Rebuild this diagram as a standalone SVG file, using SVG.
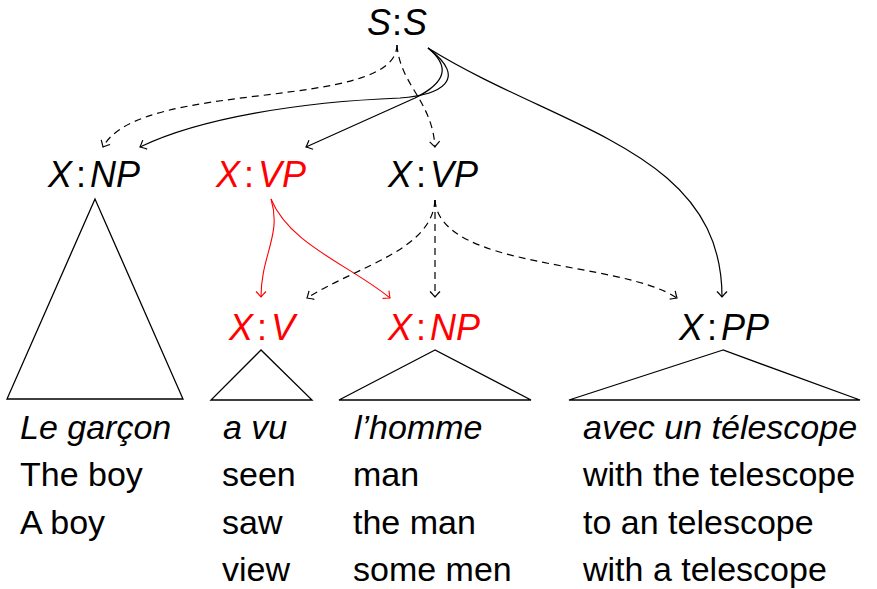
<svg xmlns="http://www.w3.org/2000/svg" width="877" height="589" viewBox="0 0 877 589">
  <style>
    .lbl { font-family: "Liberation Sans", Arial, sans-serif; font-size: 36px; text-anchor: middle; }
    .it { font-style: italic; }
    .red { fill: #ff0000; }
    .blk { fill: #000000; }
    .word { font-family: "Liberation Sans", Arial, sans-serif; font-size: 34px; fill: #000; }
    .tri { fill: none; stroke: #000; stroke-width: 1.3; stroke-linejoin: miter; }
    .edge { fill: none; stroke: #000; stroke-width: 1.2; }
    .dash { stroke-dasharray: 7 5; }
    .redge { fill: none; stroke: #ff0000; stroke-width: 1.1; }
  </style>
  <defs>
    <marker id="arrow" viewBox="-7 -7 9 14" markerWidth="9" markerHeight="14" refX="0" refY="0" orient="auto" markerUnits="userSpaceOnUse">
      <path d="M-5.5,-5 Q-1.5,-1.2 0,0 Q-1.5,1.2 -5.5,5" fill="none" stroke="#000" stroke-width="1.2" stroke-dasharray="none"/>
    </marker>
    <marker id="arrow-red" viewBox="-7 -7 9 14" markerWidth="9" markerHeight="14" refX="0" refY="0" orient="auto" markerUnits="userSpaceOnUse">
      <path d="M-5.5,-5 Q-1.5,-1.2 0,0 Q-1.5,1.2 -5.5,5" fill="none" stroke="#ff0000" stroke-width="1.1"/>
    </marker>
  </defs>
  <rect width="877" height="589" fill="#fff"/>

  <!-- connectors -->
  <g id="connectors">
    <!-- from S:S -->
    <path class="edge dash" d="M397,45 C396,112 140,78 103,147" marker-end="url(#arrow)"/>
    <path class="edge dash" d="M397,45 C400,85 432,100 435,147" marker-end="url(#arrow)"/>
    <path class="edge" d="M428,48 C470,80 440,95 400,98 C300,102 200,118 140,147" marker-end="url(#arrow)"/>
    <path class="edge" d="M428,48 C450,66 447,82 415,98 L306,147" marker-end="url(#arrow)"/>
    <path class="edge" d="M428,48 C560,130 722,150 722,297" marker-end="url(#arrow)"/>
    <!-- from red X:VP -->
    <path class="redge" d="M271,199 C282,235 261,255 261,297" marker-end="url(#arrow-red)"/>
    <path class="redge" d="M271,199 C290,245 350,265 390,298" marker-end="url(#arrow-red)"/>
    <!-- from black X:VP -->
    <path class="edge dash" d="M435,200 C432,250 360,265 307,298" marker-end="url(#arrow)"/>
    <path class="edge dash" d="M435,200 L435,297" marker-end="url(#arrow)"/>
    <path class="edge dash" d="M435,200 C440,270 620,260 677,298" marker-end="url(#arrow)"/>
  </g>

  <!-- nodes -->
  <g id="n-s">
    <text class="lbl blk" x="397" y="35"><tspan class="it">S</tspan><tspan dx="1">:</tspan><tspan dx="1" class="it">S</tspan></text>
  </g>
  <g id="n-np">
    <text class="lbl blk" x="94" y="187"><tspan class="it">X</tspan><tspan dx="4">:</tspan><tspan dx="4" class="it">NP</tspan></text>
    <polygon class="tri" points="95,199 7,399 183,399"/>
  </g>
  <g id="n-vp-red">
    <text class="lbl red" x="261" y="187"><tspan class="it">X</tspan><tspan dx="4">:</tspan><tspan dx="4" class="it">VP</tspan></text>
  </g>
  <g id="n-vp">
    <text class="lbl blk" x="433" y="187"><tspan class="it">X</tspan><tspan dx="4">:</tspan><tspan dx="4" class="it">VP</tspan></text>
  </g>
  <g id="n-v">
    <text class="lbl red" x="262" y="340"><tspan class="it">X</tspan><tspan dx="4">:</tspan><tspan dx="4" class="it">V</tspan></text>
    <polygon class="tri" points="261,350 211,400 312,400"/>
  </g>
  <g id="n-np2">
    <text class="lbl red" x="434" y="340"><tspan class="it">X</tspan><tspan dx="4">:</tspan><tspan dx="4" class="it">NP</tspan></text>
    <polygon class="tri" points="435,350 339,400 531,400"/>
  </g>
  <g id="n-pp">
    <text class="lbl blk" x="724" y="340"><tspan class="it">X</tspan><tspan dx="4">:</tspan><tspan dx="4" class="it">PP</tspan></text>
    <polygon class="tri" points="723,350 569,400 860,400"/>
  </g>

  <!-- word lists under the triangles -->
  <g id="words-1">
    <text class="word it" x="20" y="439">Le garçon</text>
    <text class="word" x="20" y="486">The boy</text>
    <text class="word" x="20" y="534">A boy</text>
  </g>
  <g id="words-2">
    <text class="word it" x="223" y="439">a vu</text>
    <text class="word" x="222" y="486">seen</text>
    <text class="word" x="222" y="534">saw</text>
    <text class="word" x="222" y="581">view</text>
  </g>
  <g id="words-3">
    <text class="word it" x="354" y="439">l’homme</text>
    <text class="word" x="353" y="486">man</text>
    <text class="word" x="353" y="534">the man</text>
    <text class="word" x="353" y="581">some men</text>
  </g>
  <g id="words-4">
    <text class="word it" x="583" y="439">avec un télescope</text>
    <text class="word" x="583" y="486">with the telescope</text>
    <text class="word" x="583" y="534">to an telescope</text>
    <text class="word" x="583" y="581">with a telescope</text>
  </g>
</svg>
